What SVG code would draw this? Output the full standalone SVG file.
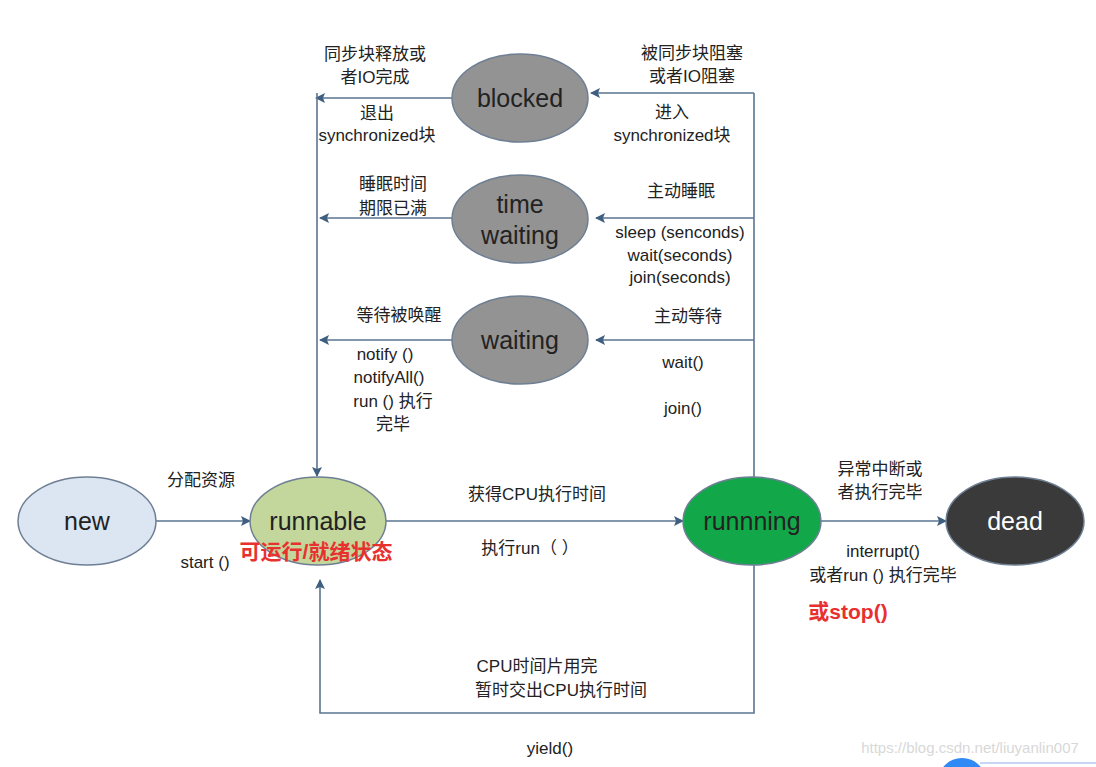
<svg xmlns="http://www.w3.org/2000/svg" width="1096" height="767" viewBox="0 0 1096 767">
<defs>
<marker id="ah" viewBox="0 0 10 10" refX="9" refY="5" markerWidth="10" markerHeight="10" markerUnits="userSpaceOnUse" orient="auto">
<path d="M0,0 L10,5 L0,10 L2,5 Z" fill="#3f5f80"/>
</marker>
<style>
.n{stroke:#6e7f94;stroke-width:1.5}
.nt{font-family:"Liberation Sans","Noto Sans CJK SC",sans-serif;font-size:25px;text-anchor:middle;fill:#222}
.t{font-family:"Liberation Sans","Noto Sans CJK SC",sans-serif;font-size:17px;text-anchor:middle;fill:#222}
.r{font-family:"Liberation Sans","Noto Sans CJK SC",sans-serif;font-size:21px;font-weight:bold;text-anchor:middle;fill:#e8312f}
.c{fill:none;stroke:#5a7590;stroke-width:1.6}
</style>
</defs>
<rect width="1096" height="767" fill="#ffffff"/>
<g id="connectors">
<path class="c" d="M156,521 H250" marker-end="url(#ah)"/>
<path class="c" d="M386,521 H683" marker-end="url(#ah)"/>
<path class="c" d="M821,521 H946" marker-end="url(#ah)"/>
<path class="c" d="M754,478 V93"/>
<path class="c" d="M754,93 H591" marker-end="url(#ah)"/>
<path class="c" d="M754,218 H596" marker-end="url(#ah)"/>
<path class="c" d="M754,340 H596" marker-end="url(#ah)"/>
<path class="c" d="M453,98 H316" marker-end="url(#ah)"/>
<path class="c" d="M452,218 H320" marker-end="url(#ah)"/>
<path class="c" d="M452,340 H320" marker-end="url(#ah)"/>
<path class="c" d="M317,93 V476" marker-end="url(#ah)"/>
<path class="c" d="M754,565 V713 H320 V580" marker-end="url(#ah)"/>
</g>
<g id="node-new">
<ellipse class="n" cx="87" cy="521" rx="69" ry="44" fill="#dce6f2"/>
<text class="nt" x="87" y="530">new</text>
</g>
<g id="node-runnable">
<ellipse class="n" cx="318" cy="521" rx="68" ry="44" fill="#c3d69b"/>
<text class="nt" x="318" y="530">runnable</text>
</g>
<g id="node-running">
<ellipse class="n" cx="752" cy="521" rx="69" ry="44" fill="#12a84a"/>
<text class="nt" x="752" y="530">runnning</text>
</g>
<g id="node-dead">
<ellipse class="n" cx="1015" cy="521" rx="69" ry="44" fill="#3a3a3a"/>
<text class="nt" x="1015" y="530" style="fill:#fff">dead</text>
</g>
<g id="node-blocked">
<ellipse class="n" cx="520" cy="98" rx="68" ry="44" fill="#939393"/>
<text class="nt" x="520" y="107">blocked</text>
</g>
<g id="node-timewaiting">
<ellipse class="n" cx="520" cy="219" rx="68" ry="44" fill="#939393"/>
<text class="nt" x="520" y="213">time</text>
<text class="nt" x="520" y="244">waiting</text>
</g>
<g id="node-waiting">
<ellipse class="n" cx="520" cy="340" rx="68" ry="44" fill="#939393"/>
<text class="nt" x="520" y="349">waiting</text>
</g>
<g id="labels">
<text class="t" x="375" y="60">同步块释放或</text>
<text class="t" x="375" y="83">者IO完成</text>
<text class="t" x="377" y="119">退出</text>
<text class="t" x="377" y="141">synchronized块</text>
<text class="t" x="692" y="59">被同步块阻塞</text>
<text class="t" x="692" y="82">或者IO阻塞</text>
<text class="t" x="672" y="118">进入</text>
<text class="t" x="672" y="141">synchronized块</text>
<text class="t" x="393" y="190">睡眠时间</text>
<text class="t" x="393" y="214">期限已满</text>
<text class="t" x="681" y="197">主动睡眠</text>
<text class="t" x="680" y="238">sleep (senconds)</text>
<text class="t" x="680" y="261">wait(seconds)</text>
<text class="t" x="680" y="283">join(seconds)</text>
<text class="t" x="399" y="321">等待被唤醒</text>
<text class="t" x="385" y="360">notify ()</text>
<text class="t" x="389" y="383">notifyAll()</text>
<text class="t" x="393" y="407">run () 执行</text>
<text class="t" x="393" y="430">完毕</text>
<text class="t" x="688" y="322">主动等待</text>
<text class="t" x="683" y="368">wait()</text>
<text class="t" x="683" y="414">join()</text>
<text class="t" x="201" y="486">分配资源</text>
<text class="t" x="205" y="568">start ()</text>
<text class="r" x="316" y="559">可运行/就绪状态</text>
<text class="t" x="537" y="500">获得CPU执行时间</text>
<text class="t" x="530" y="554">执行run（ ）</text>
<text class="t" x="880" y="475">异常中断或</text>
<text class="t" x="880" y="498">者执行完毕</text>
<text class="t" x="883" y="557">interrupt()</text>
<text class="t" x="883" y="581">或者run () 执行完毕</text>
<text class="r" x="848" y="619">或stop()</text>
<text class="t" x="537" y="672">CPU时间片用完</text>
<text class="t" x="561" y="696">暂时交出CPU执行时间</text>
<text class="t" x="550" y="754">yield()</text>
</g>
<g id="watermark">
<text x="970" y="753" font-family="Liberation Sans, sans-serif" font-size="15" text-anchor="middle" fill="#d8d8d8">https://blog.csdn.net/liuyanlin007</text>
<circle cx="962" cy="782" r="24" fill="#2f8af5"/>
<line x1="980" y1="763" x2="1096" y2="763" stroke="#b5c8f0" stroke-width="1.5"/>
</g>
</svg>
